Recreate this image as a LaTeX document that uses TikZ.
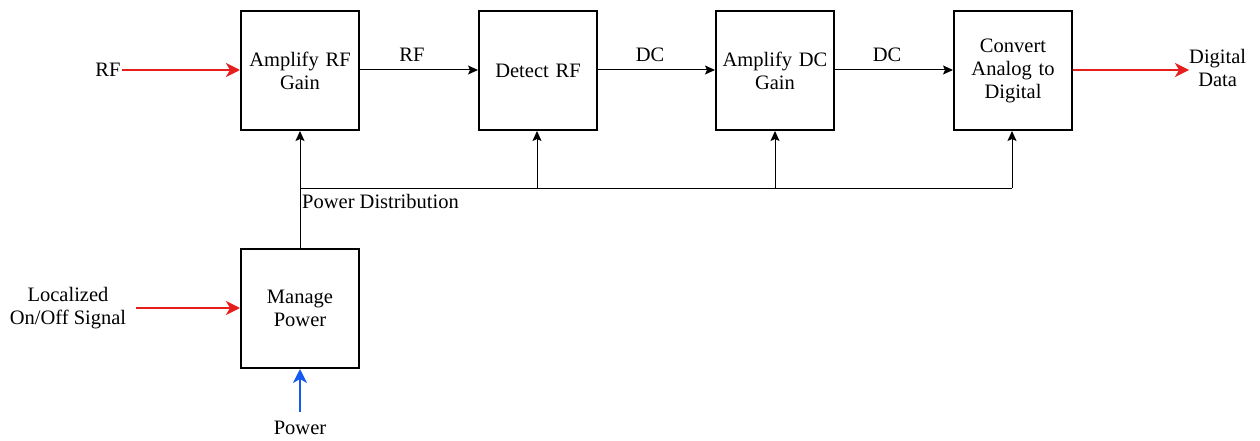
\documentclass[tikz,border=0pt]{standalone}
\usepackage{fontspec}
\setmainfont{Liberation Serif}
\usetikzlibrary{arrows.meta}
\definecolor{sigred}{RGB}{230,30,30}
\definecolor{pwrblue}{RGB}{20,90,240}
\begin{document}
\begin{tikzpicture}[x=1pt,y=-1pt,
  blk/.style={draw=black,line width=2pt,minimum width=118pt,minimum height=119pt,inner sep=2pt,align=center,text width=112pt,font=\fontsize{20.5}{23}\selectfont,anchor=north west},
  lbl/.style={font=\fontsize{20.5}{23}\selectfont,align=center,inner sep=0pt},
  conn/.style={draw=black,line width=1pt,-{Stealth[length=10pt,width=9pt,inset=2pt]}},
  redarrow/.style={draw=sigred,line width=2.2pt,-{Stealth[length=14pt,width=14pt,inset=4pt]}},
  bluearrow/.style={draw=pwrblue,line width=2.2pt,-{Stealth[length=14pt,width=14pt,inset=4pt]}},
  plain/.style={draw=black,line width=1pt}]
\useasboundingbox (0,0) rectangle (1260,441);
% blocks
\node[blk] (amprf) at (240,10) {Amplify RF\\Gain};
\node[blk] (det) at (478,10) {Detect RF};
\node[blk] (ampdc) at (715,10) {Amplify DC\\Gain};
\node[blk] (adc) at (953,10) {Convert\\Analog to\\Digital};
\node[blk] (mgr) at (240,248) {Manage\\Power};
% labels
\node[lbl] (rfin) at (108,70) {RF};
\node[lbl] (rf2) at (412,55) {RF};
\node[lbl] (dc1) at (650,55) {DC};
\node[lbl] (dc2) at (887,55) {DC};
\node[lbl,anchor=west] (dd) at (1189,68) {Digital\\Data};
\node[lbl,anchor=north west] (pd) at (302,194) {Power Distribution};
\node[lbl] (loc) at (68,308) {Localized\\On/Off Signal};
\node[lbl] (pwr) at (300,428) {Power};
% coordinates
\coordinate (rfstart) at (122,70);
\coordinate (locstart) at (136,308);
\coordinate (pwrstart) at (300,412);
\coordinate (j0) at (300,188);
\coordinate (j1) at (537,188);
\coordinate (j2) at (775,188);
\coordinate (j3) at (1012,188);
% signal chain
\draw[redarrow] (rfstart) -- (amprf.west |- rfstart);
\draw[conn] (amprf.east |- rfstart) -- (det.west |- rfstart);
\draw[conn] (det.east |- rfstart) -- (ampdc.west |- rfstart);
\draw[conn] (ampdc.east |- rfstart) -- (adc.west |- rfstart);
\draw[redarrow] (adc.east |- rfstart) -- (dd.west |- rfstart);
% power
\draw[redarrow] (locstart) -- (mgr.west |- locstart);
\draw[bluearrow] (pwrstart) -- (mgr.south -| pwrstart);
\draw[conn] (mgr.north -| j0) -- (amprf.south -| j0);
\draw[plain] (j0) -- (j3);
\draw[conn] (j1) -- (det.south -| j1);
\draw[conn] (j2) -- (ampdc.south -| j2);
\draw[conn] (j3) -- (adc.south -| j3);
\end{tikzpicture}
\end{document}
